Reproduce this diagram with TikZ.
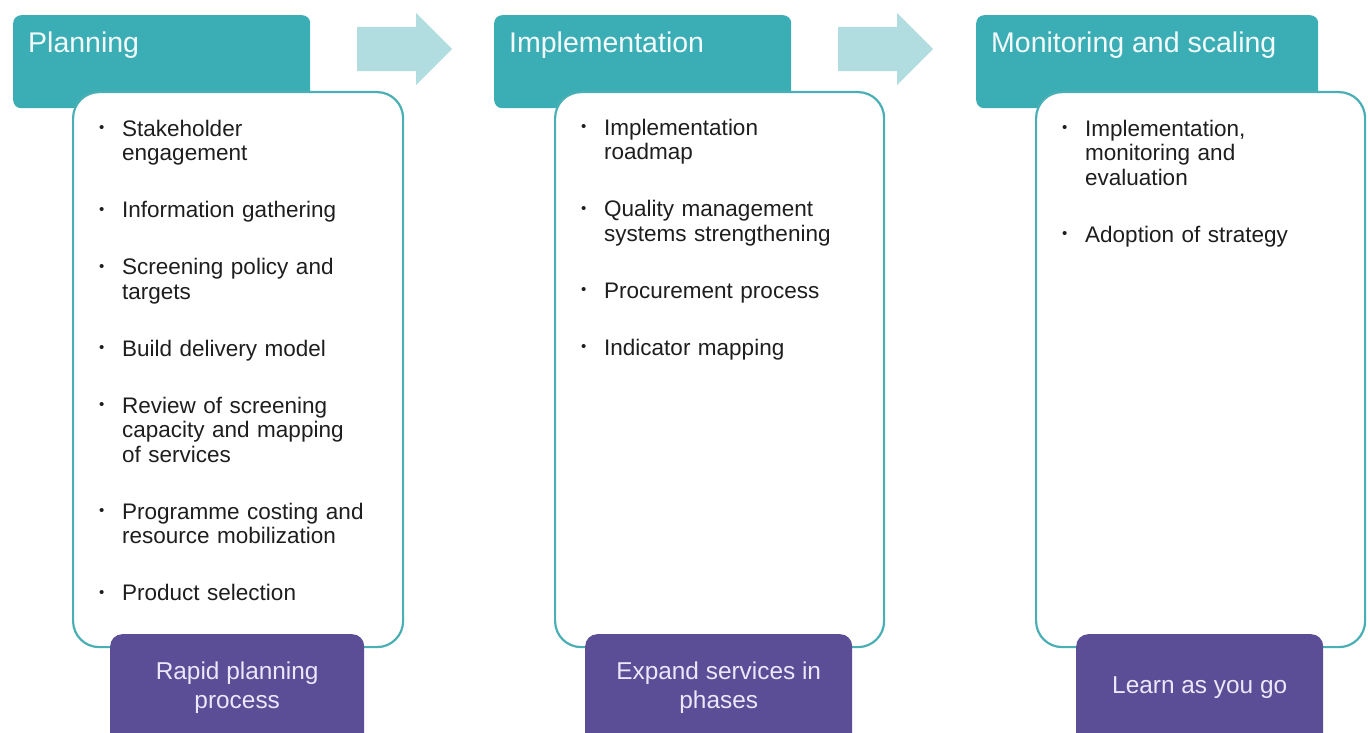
\documentclass[tikz,border=0pt]{standalone}
\usepackage{fontspec}
\setmainfont{Liberation Sans}
\usetikzlibrary{shapes.arrows}

\definecolor{headteal}{RGB}{59,174,181}
\definecolor{arrteal}{RGB}{177,221,224}
\definecolor{lineteal}{RGB}{74,175,180}
\definecolor{footpurple}{RGB}{91,77,150}
\definecolor{foottext}{RGB}{236,231,250}
\definecolor{ink}{RGB}{30,30,30}

% bullet items, hanging indent for the following lines
\newcommand{\firstitm}{\hangindent=23pt\hangafter=1\noindent
  \makebox[23pt][l]{\raisebox{3.6pt}{\fontsize{15}{15}\selectfont\textbullet}}\rule{0pt}{18pt}}
\newcommand{\itm}{\par\vspace{32.5pt}\firstitm}

\begin{document}
\begin{tikzpicture}[x=1pt,y=-1pt,
	headbox/.style={fill=headteal, rounded corners=8pt, inner sep=0pt, minimum height=93pt, anchor=north west},
	headtxt/.style={text=white!94!headteal, inner sep=0pt, anchor=base west, font=\fontsize{28.5}{30}\selectfont},
	listbox/.style={draw=lineteal, line width=2.2pt, fill=white, rounded corners=26pt, inner sep=0pt, minimum height=555pt, anchor=north west},
	items/.style={text=ink, inner sep=0pt, text width=300pt, anchor=north west,
		font={\fontsize{22.5}{24.5}\selectfont\raggedright\setlength{\parskip}{0pt}}},
	footbox/.style={fill=footpurple, rounded corners=12pt, inner sep=0pt, minimum height=115pt, anchor=north west},
	foottxt/.style={text=foottext, inner sep=0pt, align=center, font=\fontsize{24.4}{29}\selectfont},
	flow/.style={single arrow, fill=arrteal, inner sep=22pt, single arrow head extend=14pt, minimum height=95pt, anchor=tail}
	]
	\clip (0,0) rectangle (1368,733);

	% headers
	\node[headbox, minimum width=297pt] (planhd) at (13,15) {};
	\node[headbox, minimum width=297pt] (implhd) at (494,15) {};
	\node[headbox, minimum width=342pt] (monhd) at (976,15) {};
	\node[headtxt] (planlbl) at ([shift={(15,38)}]planhd.north west) {Planning};
	\node[headtxt] (impllbl) at ([shift={(15,38)}]implhd.north west) {Implementation};
	\node[headtxt] (monlbl) at ([shift={(15,38)}]monhd.north west) {Monitoring and scaling};

	% arrows between phases
	\node[flow] (arr1) at (357,49) {};
	\node[flow] (arr2) at (838,49) {};

	% white boxes with the steps
	\node[listbox, minimum width=330pt] (planbox) at (72,91) {};
	\node[listbox, minimum width=329pt] (implbox) at (554,91) {};
	\node[listbox, minimum width=329pt] (monbox) at (1035,91) {};

	\node[items] (planlist) at ([shift={(27,27)}]planbox.north west) {%
		\firstitm Stakeholder\newline engagement
		\itm Information gathering
		\itm Screening policy and\newline targets
		\itm Build delivery model
		\itm Review of screening\newline capacity and mapping\newline of services
		\itm Programme costing and\newline resource mobilization
		\itm Product selection\par};
	\node[items] (impllist) at ([shift={(27,26)}]implbox.north west) {%
		\firstitm Implementation\newline roadmap
		\itm Quality management\newline systems strengthening
		\itm Procurement process
		\itm Indicator mapping\par};
	\node[items] (monlist) at ([shift={(27,27)}]monbox.north west) {%
		\firstitm Implementation,\newline monitoring and\newline evaluation
		\itm Adoption of strategy\par};

	% purple footers
	\node[footbox, minimum width=254pt] (planft) at (110,634) {};
	\node[footbox, minimum width=267pt] (implft) at (585,634) {};
	\node[footbox, minimum width=247pt] (monft) at (1076,634) {};
	\node[foottxt] (planfttxt) at ([shift={(0,54)}]planft.north) {Rapid planning\\process};
	\node[foottxt] (implfttxt) at ([shift={(0,54)}]implft.north) {Expand services in\\phases};
	\node[foottxt] (monfttxt) at ([shift={(0,54)}]monft.north) {Learn as you go};
\end{tikzpicture}
\end{document}
